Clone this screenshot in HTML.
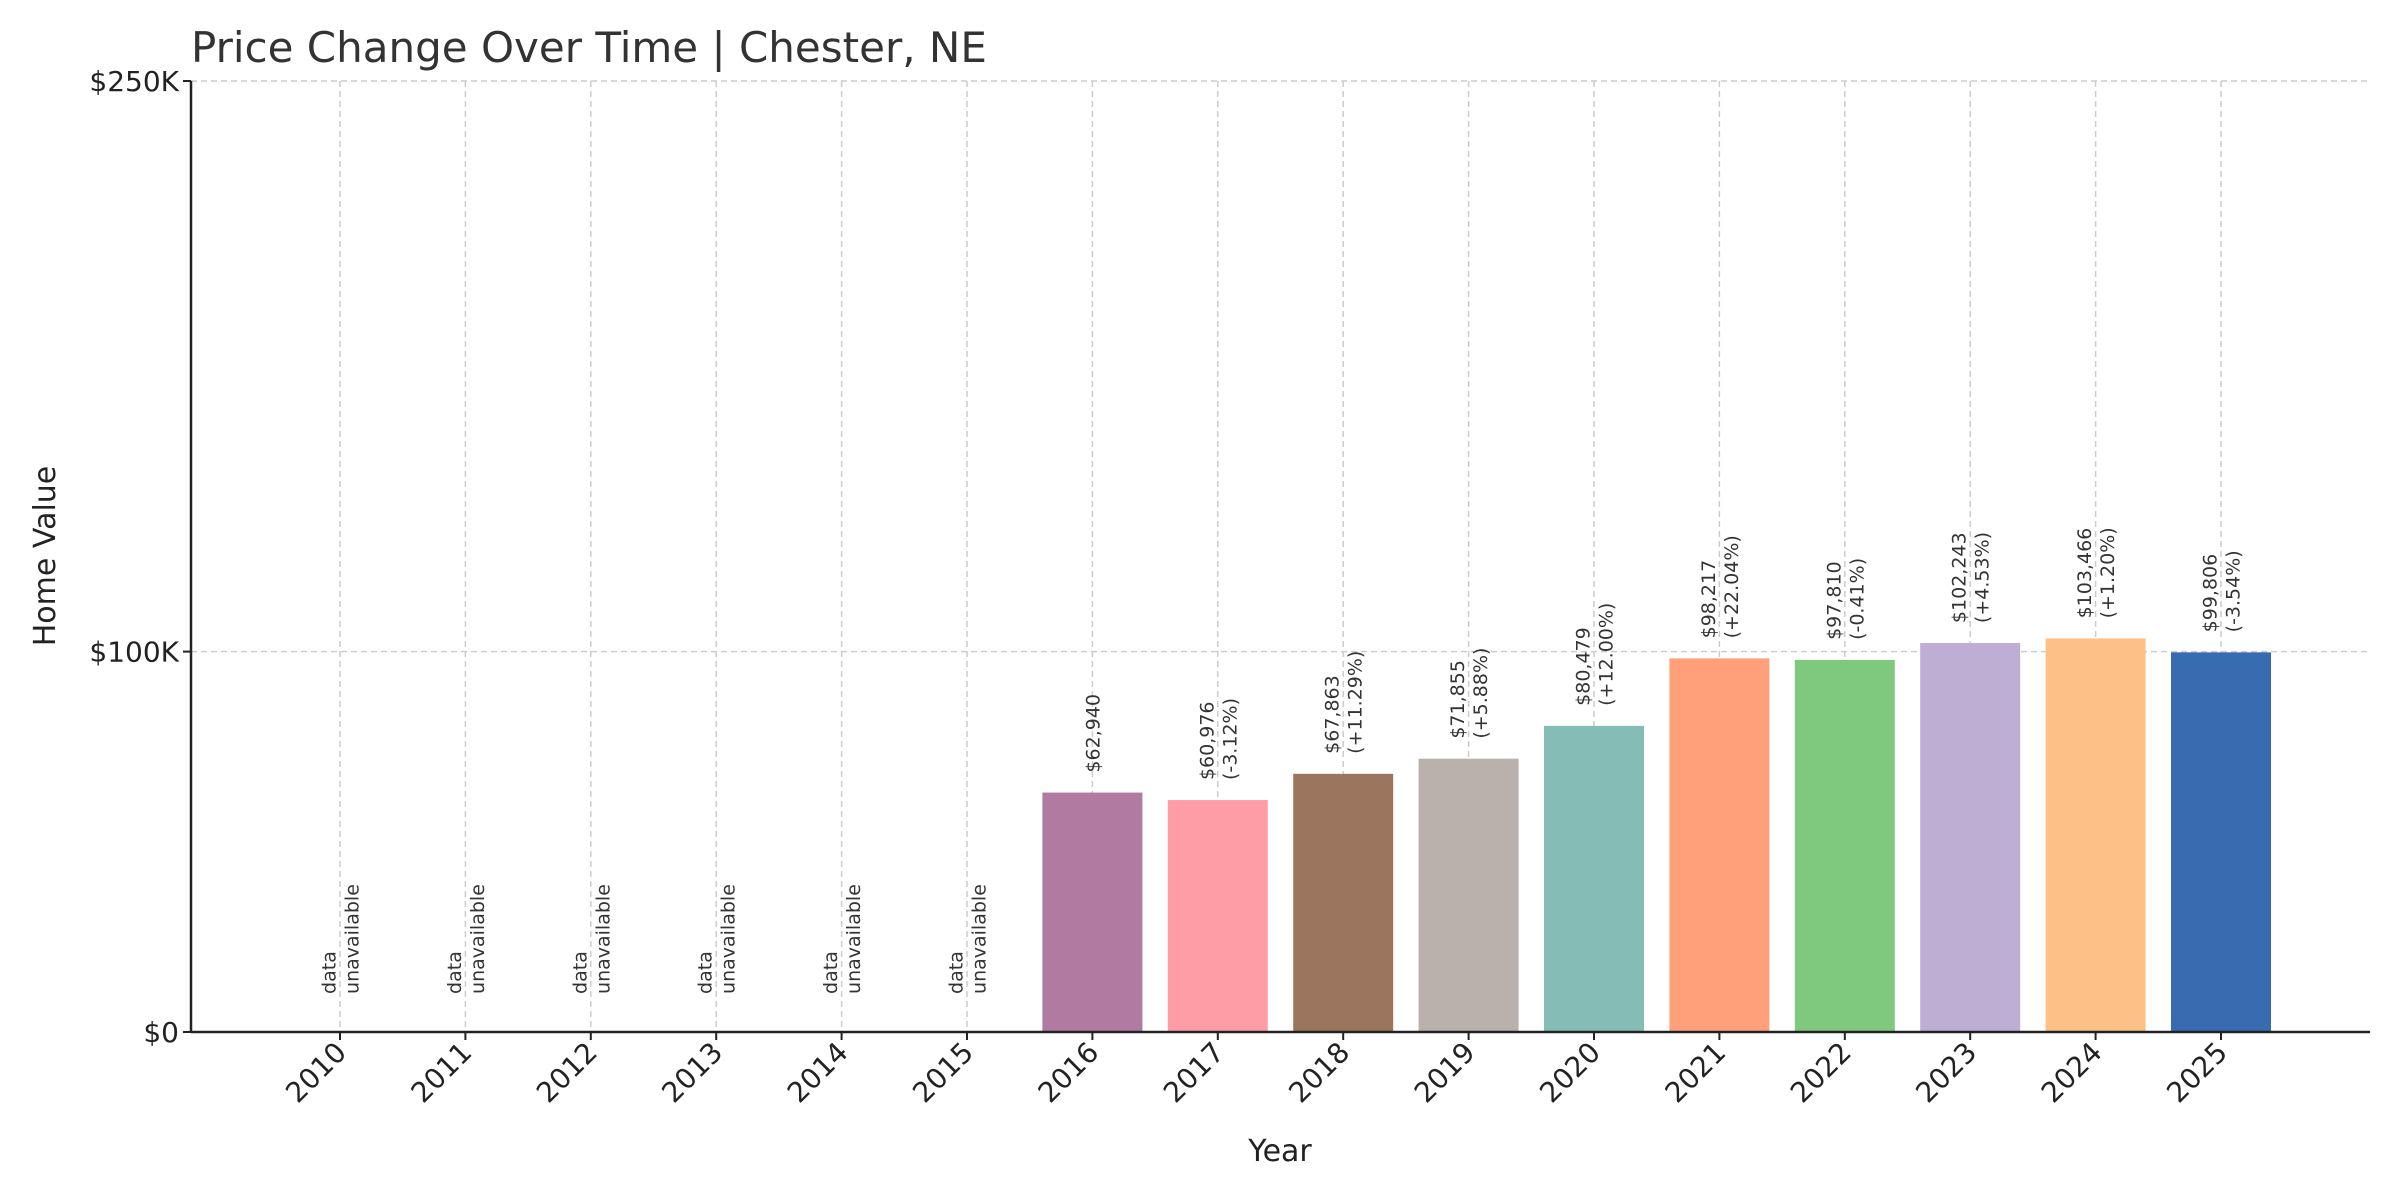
<!DOCTYPE html>
<html><head><meta charset="utf-8"><style>
html,body{margin:0;padding:0;background:#fff;}
svg{display:block;font-family:"DejaVu Sans","Liberation Sans",sans-serif;}
</style></head><body>
<svg id="chart" width="2400" height="1200" viewBox="0 0 2400 1200" xmlns="http://www.w3.org/2000/svg">
<rect width="2400" height="1200" fill="#fff"/>
<text x="191" y="62" font-size="42" fill="#333">Price Change Over Time | Chester, NE</text>
<text transform="translate(55,556) rotate(-90)" text-anchor="middle" font-size="30" fill="#222">Home Value</text>
<text x="1280" y="1161" text-anchor="middle" font-size="30" fill="#222">Year</text>
<g id="grid"></g><g id="bars"></g><g id="labels"></g><g id="axes"></g>
</svg>
<script>
const years = ["2010","2011","2012","2013","2014","2015","2016","2017","2018","2019","2020","2021","2022","2023","2024","2025"];
const values = [null,null,null,null,null,null,62940,60976,67863,71855,80479,98217,97810,102243,103466,99806];
const changes = [null,null,null,null,null,null,null,"-3.12%","+11.29%","+5.88%","+12.00%","+22.04%","-0.41%","+4.53%","+1.20%","-3.54%"];
const colors = ["#4e79a7","#f28e2b","#e15759","#76b7b2","#59a14f","#edc948","#b07aa1","#ff9da7","#9c755f","#bab0ac","#86bcb6","#ffa07a","#7fc97f","#beaed4","#fdc086","#386cb0"];
const yTicks = [0,100000,250000];
const yTickLabels = ["$0","$100K","$250K"];

const NS="http://www.w3.org/2000/svg";
const L=191,R=2370,T=81,B=1032,YMAX=250000;
const xPos=i=>340+i*125.4;
const yPos=v=>B-(v/YMAX)*(B-T);
function mk(tag,attrs,parent,txt){const e=document.createElementNS(NS,tag);for(const k in attrs)e.setAttribute(k,attrs[k]);if(txt!=null)e.textContent=txt;parent.appendChild(e);return e;}
const grid=document.getElementById('grid'),bars=document.getElementById('bars'),labels=document.getElementById('labels'),axes=document.getElementById('axes');
yTicks.forEach((v,i)=>{
  const y=yPos(v);
  if(v>0){const g=mk('line',{x1:L,x2:R,y1:y,y2:y,stroke:'#ccc','stroke-width':1.5,'stroke-dasharray':'6,4'},grid);
  
  }
  const t=mk('line',{x1:L-8,x2:L,y1:y,y2:y,stroke:'#222','stroke-width':2},axes);
  
  
  const tl=mk('text',{x:L-12,y:y+10,'text-anchor':'end','font-size':28,fill:'#222'},axes,yTickLabels[i]);
  
  
});
years.forEach((yr,i)=>{
  const x=xPos(i);
  const g=mk('line',{x1:x,x2:x,y1:T,y2:B,stroke:'#ccc','stroke-width':1.5,'stroke-dasharray':'6,4'},grid);
  
  
  const v=values[i];
  if(v!=null){
    const r=mk('rect',{x:x-50,y:yPos(v),width:100,height:B-yPos(v),fill:colors[i]},bars);
    
    
    const lines=['$'+v.toLocaleString('en-US')];
    if(changes[i])lines.push('('+changes[i]+')');
    const by=yPos(v)-20,n=lines.length;
    lines.forEach((ln,j)=>{
      const dx=(j-(n-1)/2)*23;
      const t=mk('text',{transform:`translate(${x+dx+7},${by}) rotate(-90)`,'font-size':19,fill:'#333'},labels,ln);
      
      
    });
  } else {
    ['data','unavailable'].forEach((ln,j)=>{
      const dx=(j-0.5)*23;
      const t=mk('text',{transform:`translate(${x+dx+7},${yPos(10000)}) rotate(-90)`,'font-size':19,fill:'#333'},labels,ln);
      
      
    });
  }
  const tk=mk('line',{x1:x,x2:x,y1:B,y2:B+8,stroke:'#222','stroke-width':2},axes);
  
  
  const tl=mk('text',{transform:`translate(${x+8},${B+22}) rotate(-45)`,'text-anchor':'end','font-size':28,fill:'#222'},axes,yr);
  
  
});
const la=mk('line',{x1:L,x2:L,y1:T,y2:B,stroke:'#222','stroke-width':2.5},axes);


const ba=mk('line',{x1:L,x2:R,y1:B,y2:B,stroke:'#222','stroke-width':2.5},axes);


</script>
</body></html>
